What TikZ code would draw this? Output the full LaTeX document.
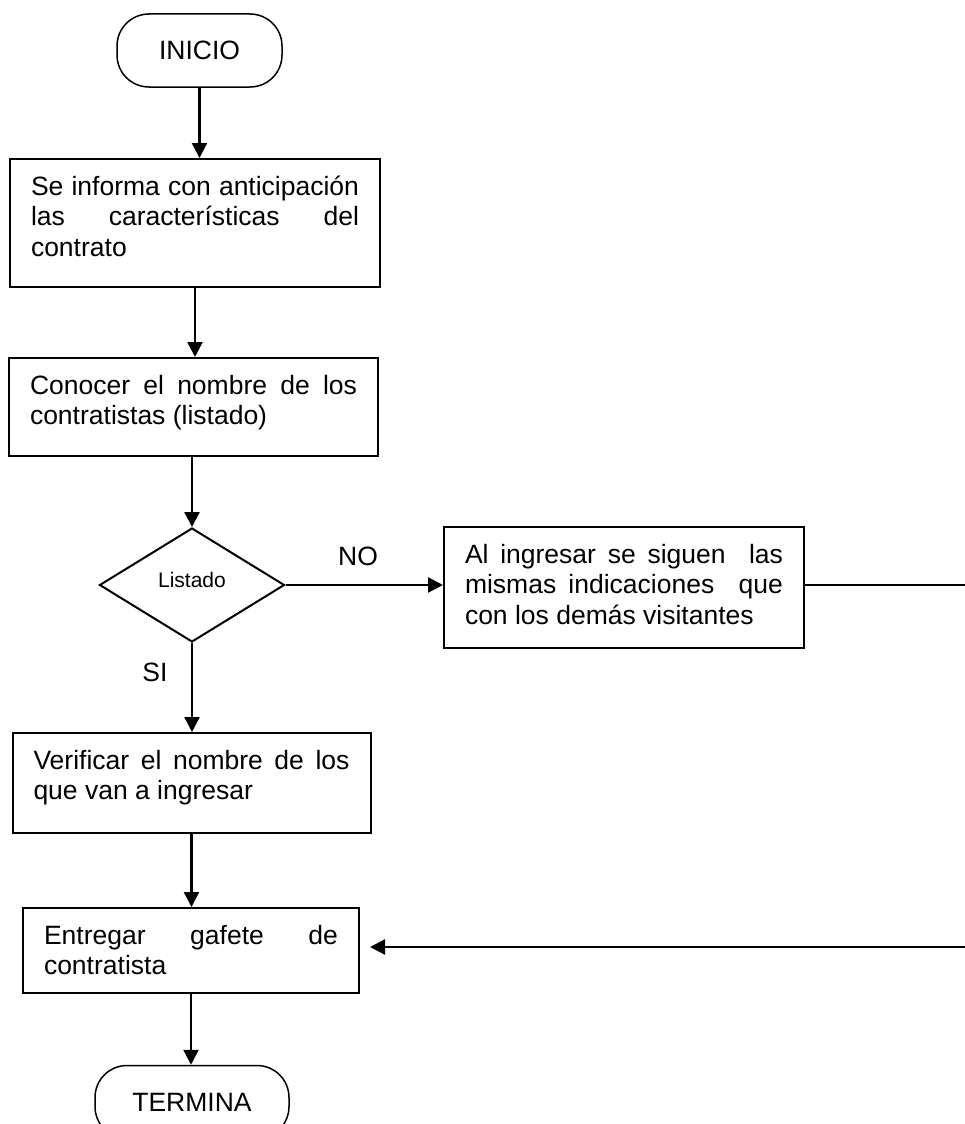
\documentclass[tikz,border=0pt]{standalone}
\usepackage{fontspec}
\setmainfont{Liberation Sans}
\usetikzlibrary{shapes.geometric,arrows.meta}
\newcommand{\texto}[3]{\parbox[c][#2][t]{#1}{\rule{0pt}{36pt}#3}}
\tikzset{
  inicio/.style={draw, line width=1.5pt, rounded corners=32pt, minimum height=73pt},
  proceso/.style={draw, line width=2pt, inner xsep=21pt, inner ysep=0pt},
  decision/.style={draw, diamond, line width=2pt, minimum width=185pt, minimum height=114pt, inner sep=0pt, font=\fontsize{21}{24}\selectfont},
  flecha/.style={line width=2.3pt, -{Triangle[length=15pt,width=15pt]}},
  linea/.style={line width=2.2pt}
}

\begin{document}
\begin{tikzpicture}[x=1pt, y=-1pt, font=\fontsize{26.5}{30.5}\selectfont]
\useasboundingbox (0,0) rectangle (965,1124);
\clip (0,0) rectangle (965,1124);
\node[inicio, minimum width=165pt] (ini) at (199.5,50.5) {INICIO};
\node[proceso] (c1) at (195,223) {\texto{328pt}{128pt}{Se informa con anticipación\linebreak las características del\linebreak contrato}};
\node[proceso] (c2) at (193.5,407) {\texto{327pt}{98pt}{Conocer el nombre de los\linebreak contratistas (listado)}};
\node[decision] (lis) at (192,585) {\raisebox{10pt}{Listado}};
\node[proceso] (c3) at (624,587.5) {\texto{318pt}{121pt}{Al ingresar se siguen \ las\linebreak mismas indicaciones \ que\linebreak con los demás visitantes}};
\node[proceso] (c4) at (191.5,783) {\texto{316pt}{100pt}{Verificar el nombre de los\linebreak que van a ingresar}};
\node[proceso] (c5) at (191,950.5) {\texto{294pt}{85pt}{Entregar gafete de\linebreak contratista}};
\node[inicio, minimum width=194pt] (fin) at (192,1102) {TERMINA};
\node (no) at (358,556) {NO};
\node (si) at (155,672) {SI};
\coordinate (der1) at (965,585);
\coordinate (der2) at (965,947);
\draw[flecha] (ini.south) -- (ini.south |- c1.north);
\draw[flecha] (c1.south) -- (c1.south |- c2.north);
\draw[flecha] (lis.north |- c2.south) -- (lis.north);
\draw[flecha] (lis.east) -- (lis.east -| c3.west);
\draw[flecha] (lis.south) -- (lis.south |- c4.north);
\draw[flecha] (c4.south) -- (c4.south |- c5.north);
\draw[flecha] (c5.south) -- (c5.south |- fin.north);
\draw[linea] (c3.east |- der1) -- (der1);
\draw[flecha, shorten >=10pt] (der2) -- (der2 -| c5.east);
\end{tikzpicture}
\end{document}
